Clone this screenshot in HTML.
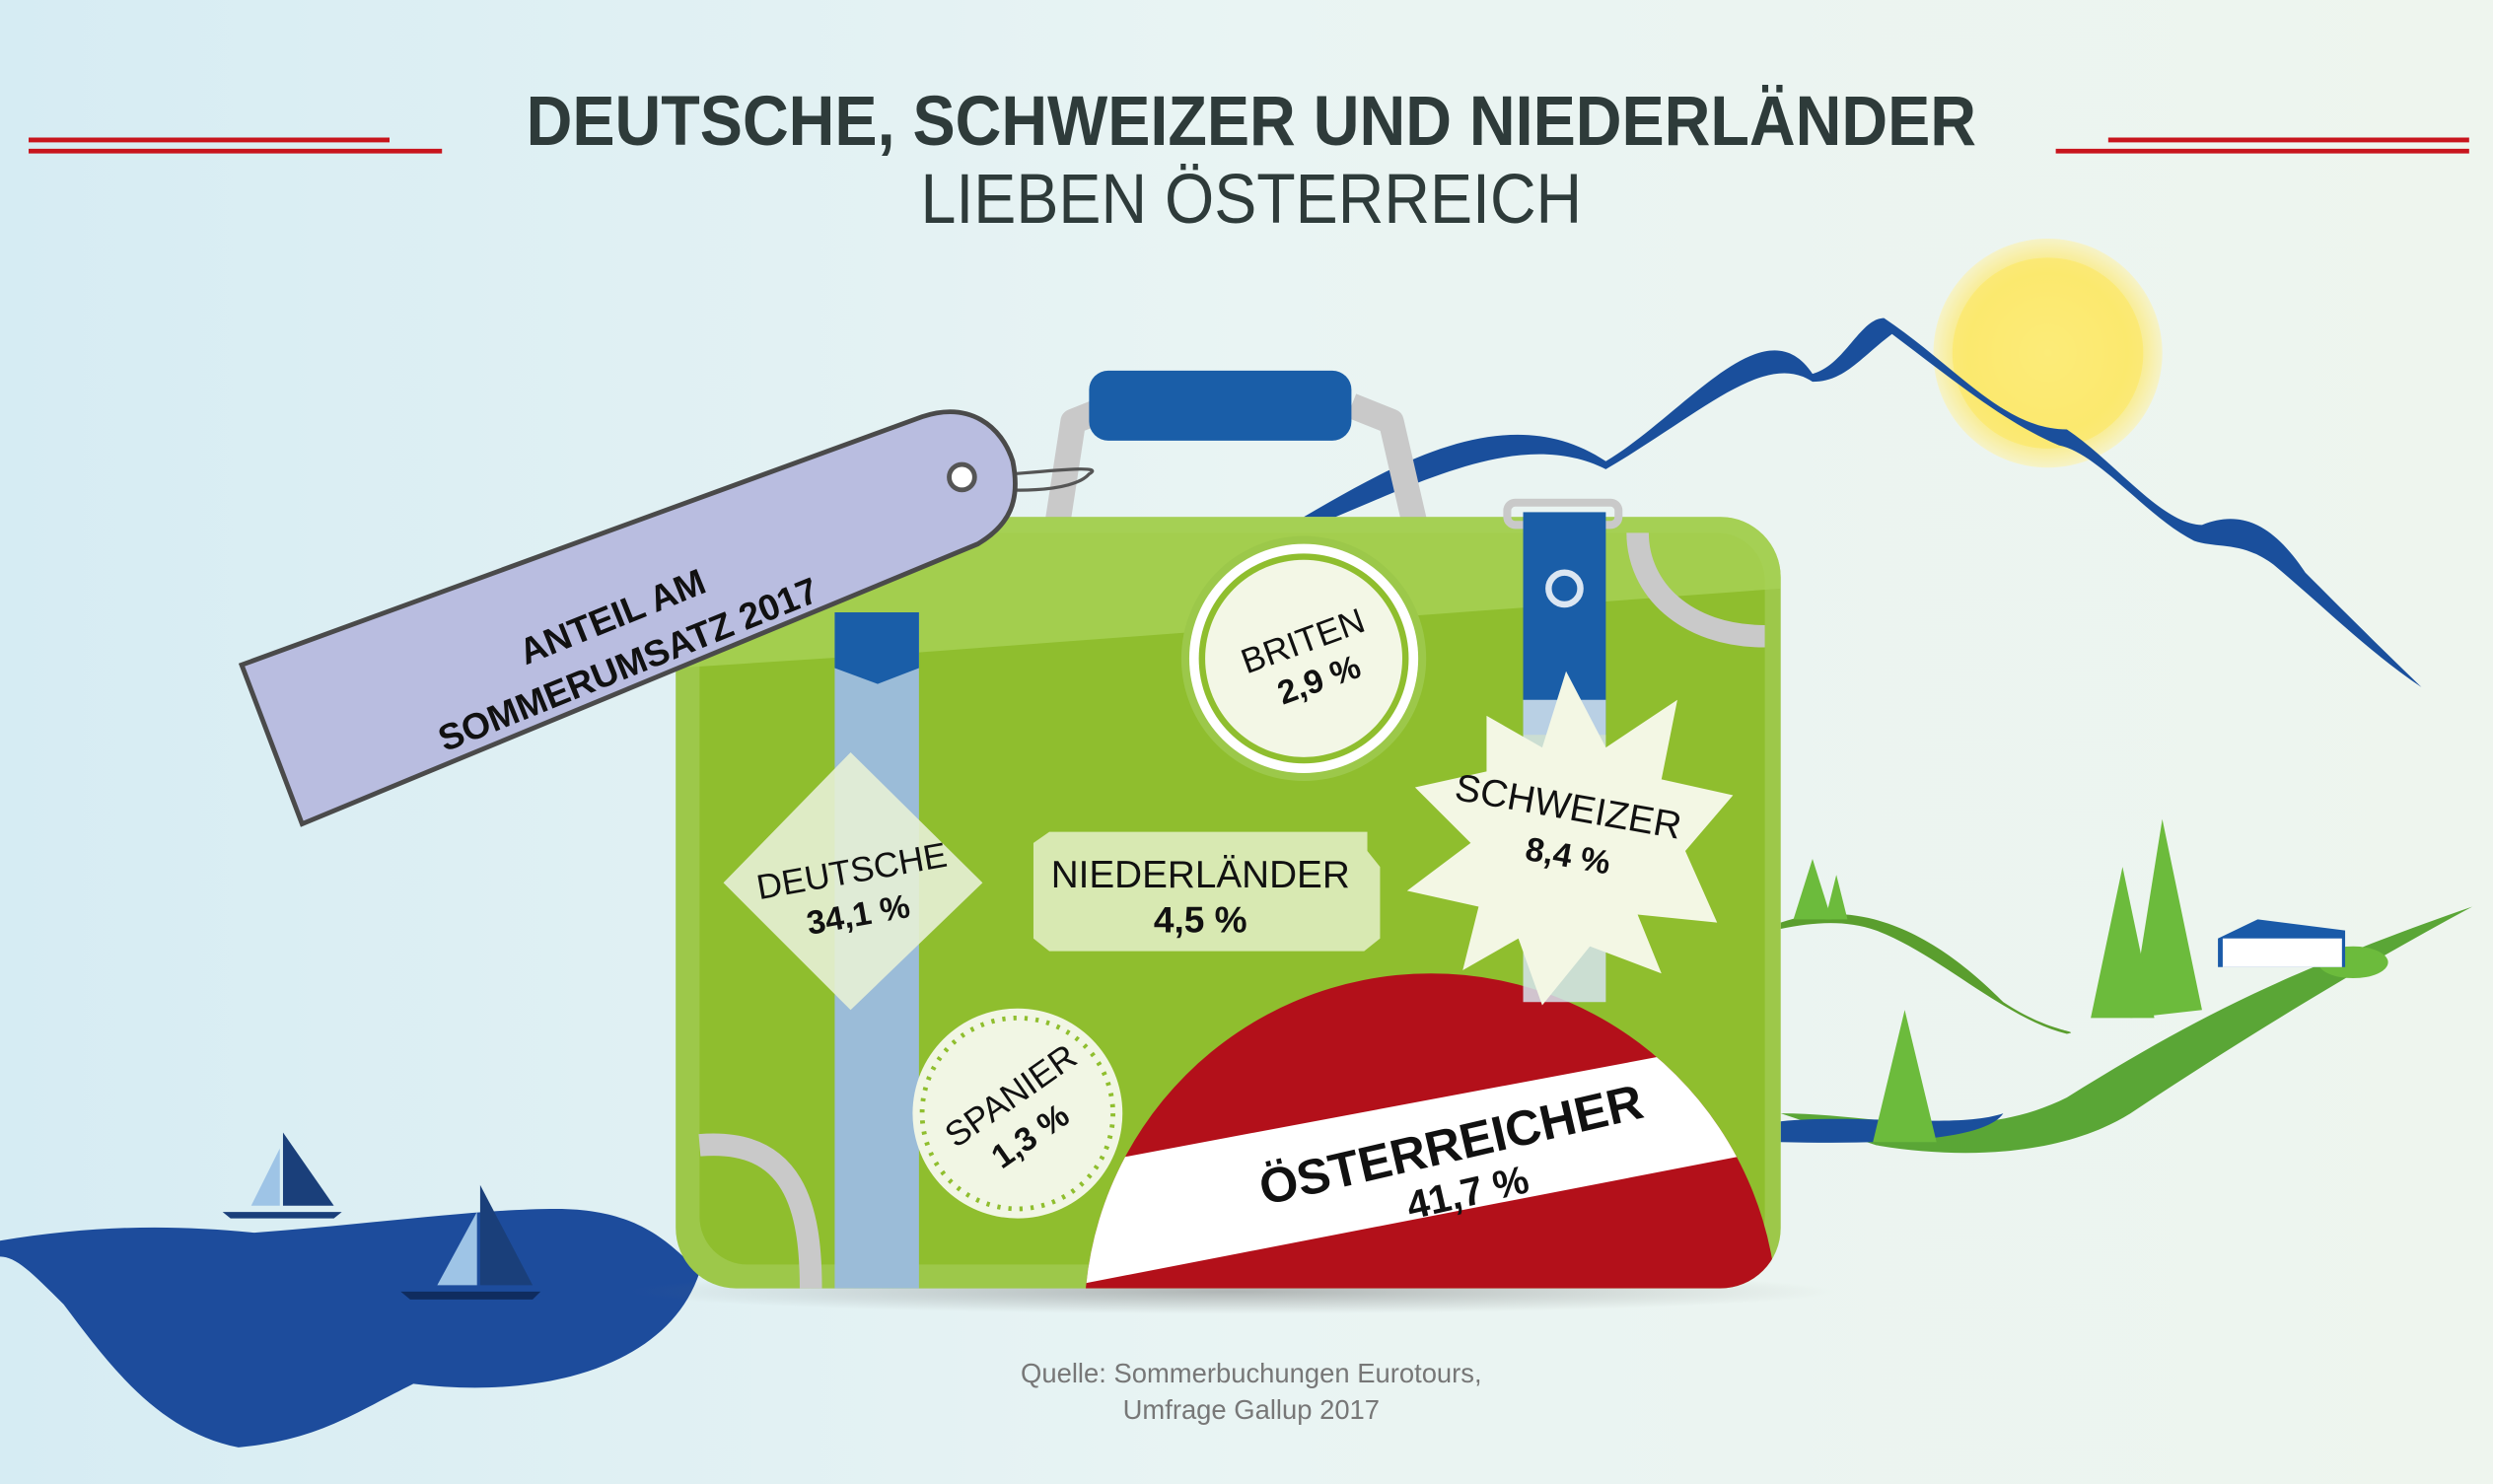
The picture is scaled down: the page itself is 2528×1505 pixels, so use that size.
<!DOCTYPE html>
<html><head><meta charset="utf-8"><style>html,body{margin:0;padding:0;overflow:hidden;width:2528px;height:1505px}svg{display:block}text{font-family:"Liberation Sans",sans-serif}</style></head><body>
<svg width="2528" height="1505" viewBox="0 0 1568 933" preserveAspectRatio="none" xmlns="http://www.w3.org/2000/svg" style="display:block">
<defs>
<linearGradient id="bg" x1="0" y1="0" x2="1" y2="0"><stop offset="0" stop-color="#d6ecf3"/><stop offset="0.5" stop-color="#e9f4f3"/><stop offset="1" stop-color="#eef5ee"/></linearGradient>
<radialGradient id="sun" cx="0.5" cy="0.5" r="0.5"><stop offset="0" stop-color="#fff7a0"/><stop offset="0.7" stop-color="#fbe870"/><stop offset="1" stop-color="#f6f3c8"/></radialGradient>
<clipPath id="case"><rect x="425" y="325" width="695" height="485" rx="38"/></clipPath>
<clipPath id="flag"><circle cx="900" cy="830" r="218"/></clipPath>
<radialGradient id="sh" cx="0.5" cy="0.5" r="0.5"><stop offset="0" stop-color="#777" stop-opacity="0.5"/><stop offset="1" stop-color="#777" stop-opacity="0"/></radialGradient>
</defs>
<rect width="1568" height="933" fill="url(#bg)"/>
<g stroke="#c8151d" stroke-width="3"><line x1="18" y1="88" x2="245" y2="88"/><line x1="18" y1="95" x2="278" y2="95"/><line x1="1326" y1="88" x2="1553" y2="88"/><line x1="1293" y1="95" x2="1553" y2="95"/></g>
<text x="787" y="91" text-anchor="middle" font-size="44" font-weight="bold" fill="#2e3b3a" textLength="912" lengthAdjust="spacingAndGlyphs">DEUTSCHE, SCHWEIZER UND NIEDERLÄNDER</text>
<text x="787" y="140" text-anchor="middle" font-size="44" fill="#2e3b3a" textLength="416" lengthAdjust="spacingAndGlyphs">LIEBEN ÖSTERREICH</text>
<circle cx="1288" cy="222" r="72" fill="url(#sun)"/>
<circle cx="1288" cy="222" r="60" fill="#fbe96e" opacity="0.8"/>
<path d="M820 325 C880 290 950 250 1010 290 C1060 260 1110 190 1140 235 C1160 230 1170 200 1185 200 C1230 230 1260 270 1300 270 C1330 290 1360 330 1385 330 C1410 320 1430 330 1450 360 C1480 390 1500 410 1523 432 C1490 410 1460 380 1430 355 C1410 340 1395 345 1380 340 C1350 325 1320 285 1295 280 C1260 265 1230 240 1190 210 C1170 225 1160 240 1140 240 C1110 220 1070 260 1010 295 C960 270 900 300 840 325 Z" fill="#1a4f9c"/>
<path d="M1120 580 C1180 560 1230 600 1260 630 C1290 650 1310 648 1300 650 C1260 640 1220 600 1180 585 C1160 578 1140 580 1120 584 Z" fill="#5a9e2e"/>
<path d="M1120 700 C1180 700 1240 720 1300 690 C1380 640 1440 610 1555 570 C1480 610 1400 660 1340 700 C1300 725 1240 730 1180 720 Z" fill="#5aa636"/>
<path d="M1120 705 C1170 700 1230 710 1260 700 C1250 715 1200 720 1120 718 Z" fill="#1a4f9c"/>
<g fill="#6cbb3c"><polygon points="1360,515 1340,640 1385,635"/><polygon points="1335,545 1315,640 1355,640"/><polygon points="1198,635 1178,718 1218,718"/><polygon points="1140,540 1128,578 1152,578"/><polygon points="1155,550 1148,578 1162,578"/><ellipse cx="1480" cy="605" rx="22" ry="10"/></g>
<path d="M1395 590 L1420 578 L1475 585 L1475 608 L1395 608 Z" fill="#1a5aa8"/><rect x="1398" y="590" width="75" height="18" fill="#fff"/>
<path d="M0 780 C60 770 110 770 160 775 C230 770 300 760 350 760 C400 760 420 780 440 800 C420 860 340 880 260 870 C220 890 200 905 150 910 C100 900 70 860 40 820 C20 800 10 790 0 790 Z" fill="#1d4c9c"/>
<path d="M178 712 L178 758 L210 758 Z" fill="#1a3f7a"/><path d="M176 722 L158 758 L176 758 Z" fill="#9ec4e6"/>
<path d="M140 762 L215 762 L210 766 L145 766 Z" fill="#1a3f7a"/>
<path d="M302 745 L302 808 L335 808 Z" fill="#1a3f7a"/><path d="M300 762 L275 808 L300 808 Z" fill="#9ec4e6"/>
<path d="M252 812 L340 812 L335 817 L258 817 Z" fill="#0f2c5f"/>
<ellipse cx="775" cy="812" rx="380" ry="14" fill="url(#sh)"/>
<path d="M665 330 L675 265 L700 255 M850 255 L875 265 L890 330" stroke="#c9c9c9" stroke-width="16" fill="none" stroke-linejoin="round"/>
<rect x="685" y="233" width="165" height="44" rx="12" fill="#1a5ea8"/>
<rect x="425" y="325" width="695" height="485" rx="38" fill="#9dc84a"/>
<g clip-path="url(#case)">
<rect x="440" y="335" width="670" height="460" rx="30" fill="#8fbe2e"/>
<polygon points="425,325 1120,325 1120,370 580,410 425,420" fill="#a8d256" opacity="0.8"/>
<path d="M440 720 C500 715 510 760 510 810" stroke="#c9c9c9" stroke-width="14" fill="none"/>
<path d="M1030 335 C1030 370 1060 400 1110 400" stroke="#c9c9c9" stroke-width="14" fill="none"/>
<rect x="525" y="385" width="53" height="425" fill="#9bbcd8"/>
<polygon points="525,385 578,385 578,420 552,430 525,420" fill="#1a5ea8"/>
<g clip-path="url(#flag)">
<rect x="600" y="600" width="520" height="210" fill="#b3101a"/>
<polygon points="640,740 1120,650 1120,722 640,815" fill="#fff"/>
</g>
</g>
<rect x="948" y="316" width="70" height="14" rx="5" fill="none" stroke="#c9c9c9" stroke-width="5"/>
<rect x="958" y="322" width="52" height="140" fill="#1a5ea8"/>
<circle cx="984" cy="370" r="10" fill="none" stroke="#dbe6f2" stroke-width="4"/>
<rect x="958" y="440" width="52" height="190" fill="#d6e4ef" opacity="0.85"/>
<circle cx="820" cy="414" r="77" fill="#9cc84a"/><circle cx="820" cy="414" r="72" fill="#fff"/><circle cx="820" cy="414" r="66" fill="#8fbe2e"/><circle cx="820" cy="414" r="62" fill="#f3f7e6"/>
<text transform="translate(822,410) rotate(-20)" text-anchor="middle" font-size="22" fill="#111">BRITEN</text>
<text transform="translate(832,434) rotate(-20)" text-anchor="middle" font-size="21" font-weight="bold" fill="#111">2,9 %</text>
<polygon points="535,473 618,555 535,635 455,555" fill="#e7efd6" opacity="0.9"/>
<text transform="translate(537,555) rotate(-10)" text-anchor="middle" font-size="22" fill="#111">DEUTSCHE</text>
<text transform="translate(541,582) rotate(-10)" text-anchor="middle" font-size="21" font-weight="bold" fill="#111">34,1 %</text>
<path d="M660 523 L860 523 L860 535 L868 545 L868 590 L858 598 L660 598 L650 590 L650 530 Z" fill="#d8e9b2"/>
<text x="755" y="558" text-anchor="middle" font-size="24" fill="#111">NIEDERLÄNDER</text>
<text x="755" y="586" text-anchor="middle" font-size="23" font-weight="bold" fill="#111">4,5 %</text>
<polygon points="985,422 1010,470 1055,440 1045,490 1090,500 1060,535 1080,580 1030,575 1045,612 1000,595 970,632 955,590 920,610 930,570 885,560 925,530 890,495 935,485 935,450 970,470" fill="#f3f7e4"/>
<text transform="translate(985,515) rotate(10)" text-anchor="middle" font-size="24" fill="#111">SCHWEIZER</text>
<text transform="translate(985,545) rotate(10)" text-anchor="middle" font-size="21" font-weight="bold" fill="#111">8,4 %</text>
<circle cx="640" cy="700" r="66" fill="#f1f6e4"/><circle cx="640" cy="700" r="60" fill="none" stroke="#8fbe2e" stroke-width="3" stroke-dasharray="2 5"/>
<text transform="translate(640,695) rotate(-35)" text-anchor="middle" font-size="22" fill="#111">SPANIER</text>
<text transform="translate(652,720) rotate(-35)" text-anchor="middle" font-size="21" font-weight="bold" fill="#111">1,3 %</text>
<text transform="translate(915,730) rotate(-13)" text-anchor="middle" font-size="31" font-weight="bold" fill="#111">ÖSTERREICHER</text>
<text transform="translate(925,758) rotate(-13)" text-anchor="middle" font-size="25" font-weight="bold" fill="#111">41,7 %</text>
<path d="M605 300 C630 300 700 290 685 298 C675 310 630 310 610 305" stroke="#555" stroke-width="2" fill="none"/>
<path d="M152 418 L580 262 C610 252 630 268 637 290 C642 315 635 330 615 342 L190 518 Z" fill="#b9bde0" stroke="#4a4a4a" stroke-width="3"/>
<circle cx="605" cy="300" r="8" fill="#fff" stroke="#555" stroke-width="3"/>
<text transform="translate(388,395) rotate(-22)" text-anchor="middle" font-size="23" font-weight="bold" fill="#111">ANTEIL AM</text>
<text transform="translate(398,425) rotate(-22)" text-anchor="middle" font-size="23" font-weight="bold" fill="#111">SOMMERUMSATZ 2017</text>
<text x="787" y="869" text-anchor="middle" font-size="17" fill="#777">Quelle: Sommerbuchungen Eurotours,</text>
<text x="787" y="892" text-anchor="middle" font-size="17" fill="#777">Umfrage Gallup 2017</text>
</svg>
</body></html>
